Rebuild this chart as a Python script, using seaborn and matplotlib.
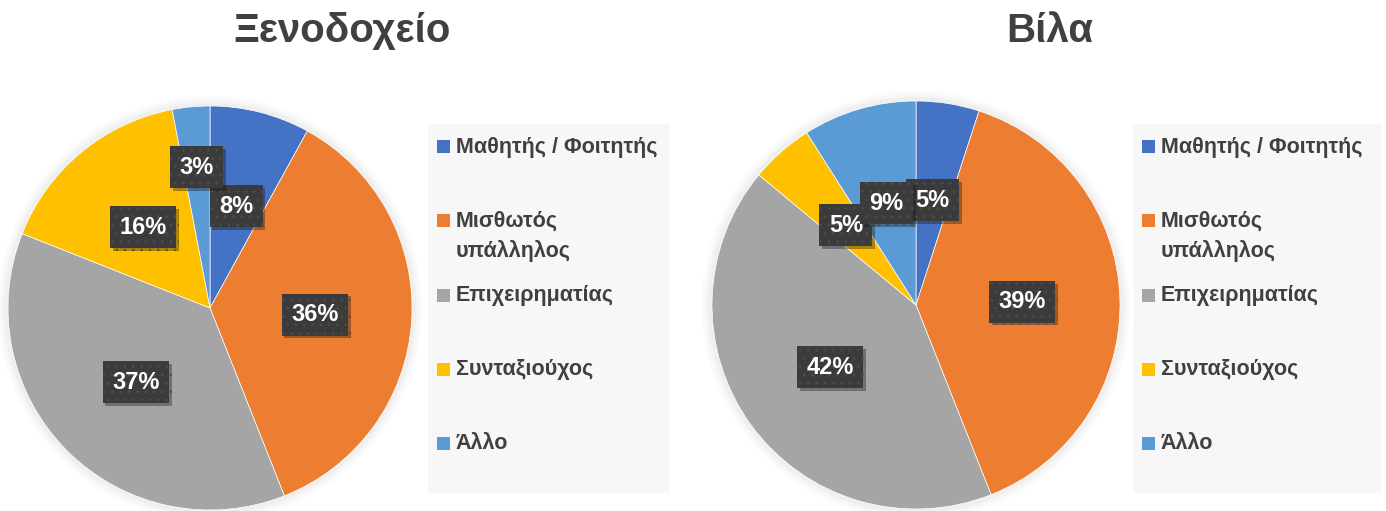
import matplotlib
matplotlib.use("Agg")
import matplotlib.pyplot as plt
import matplotlib.patheffects as pe
from matplotlib.patches import Rectangle, Circle
import seaborn as sns

categories = ["Μαθητής / Φοιτητής", "Μισθωτός\nυπάλληλος", "Επιχειρηματίας",
              "Συνταξιούχος", "Άλλο"]
hotel_values = [8, 36, 37, 16, 3]
villa_values = [5, 39, 42, 5, 9]
titles = ["Ξενοδοχείο", "Βίλα"]
colors = ["#4472C4", "#ED7D31", "#A5A5A5", "#FFC000", "#5B9BD5"]

sns.set_theme(style="white")
plt.rcParams["font.family"] = ["Liberation Sans", "DejaVu Sans"]
plt.rcParams["hatch.linewidth"] = 0.6
palette = sns.color_palette(colors)

fig = plt.figure(figsize=(13.86, 5.11), dpi=100)
W, H = 1386, 511
TEXT_COLOR = "#404040"


def fig_box(x0, y0, x1, y1):
    # pixel box (top-left origin) -> figure fraction
    return [x0 / W, 1 - y1 / H, (x1 - x0) / W, (y1 - y0) / H]


def draw_legend(handles, legend_px):
    x0, y0, x1, y1 = legend_px
    bx = fig_box(*legend_px)
    fig.add_artist(Rectangle((bx[0], bx[1]), bx[2], bx[3],
                             transform=fig.transFigure, facecolor="#f7f7f7",
                             edgecolor="none", zorder=0))
    # Excel style: entries on a fixed pitch, extra lines spill downward
    first, pitch, line_h, sq = y0 + 23, 74, 30, 13
    for i, (w, label) in enumerate(zip(handles, categories)):
        yc = first + pitch * i
        fig.add_artist(Rectangle(((x0 + 9) / W, 1 - (yc + sq / 2) / H),
                                 sq / W, sq / H, transform=fig.transFigure,
                                 facecolor=w.get_facecolor(), edgecolor="none"))
        for j, line in enumerate(label.split("\n")):
            fig.text((x0 + 28) / W, 1 - (yc + j * line_h) / H, line,
                     ha="left", va="center", fontsize=15.5,
                     fontweight="bold", color=TEXT_COLOR)


def draw_pie(values, pie_px, legend_px, title, title_x):
    ax = fig.add_axes(fig_box(*pie_px))
    # soft halo around the pie
    for r, a in [(1.05, 0.03), (1.035, 0.04), (1.02, 0.05)]:
        ax.add_patch(Circle((0, 0), r, color="#808080", alpha=a, lw=0,
                            clip_on=False))
    wedges, texts, autotexts = ax.pie(
        values, colors=palette, startangle=90, counterclock=False,
        autopct="%1.0f%%", pctdistance=0.52,
        wedgeprops=dict(linewidth=0.5, edgecolor="white"),
        textprops=dict(color="white", fontsize=17, fontweight="bold"))
    for v, t in zip(values, autotexts):
        if v < 5:
            x, y = t.get_position()
            t.set_position((x * 0.7 / 0.52, y * 0.7 / 0.52))
        t.set_bbox(dict(boxstyle="square,pad=0.4", facecolor="#3b3b3b",
                        edgecolor="#4d4d4d", linewidth=0, hatch=".."))
        t.get_bbox_patch().set_path_effects(
            [pe.SimplePatchShadow(offset=(2, -2), alpha=0.35), pe.Normal()])
    ax.set_xlim(-1.0, 1.0)
    ax.set_ylim(-1.0, 1.0)
    ax.set_aspect("equal")
    ax.axis("off")

    draw_legend(wedges, legend_px)
    fig.text(title_x / W, 1 - 31 / H, title, ha="center", va="center",
             fontsize=29, fontweight="bold", color=TEXT_COLOR)


draw_pie(hotel_values, (8, 106, 412, 510), (428, 124, 670, 493), titles[0], 342)
draw_pie(villa_values, (712, 101, 1120, 509), (1133, 124, 1382, 493), titles[1], 1050)

fig.savefig("out.png", dpi=100, facecolor="white")
